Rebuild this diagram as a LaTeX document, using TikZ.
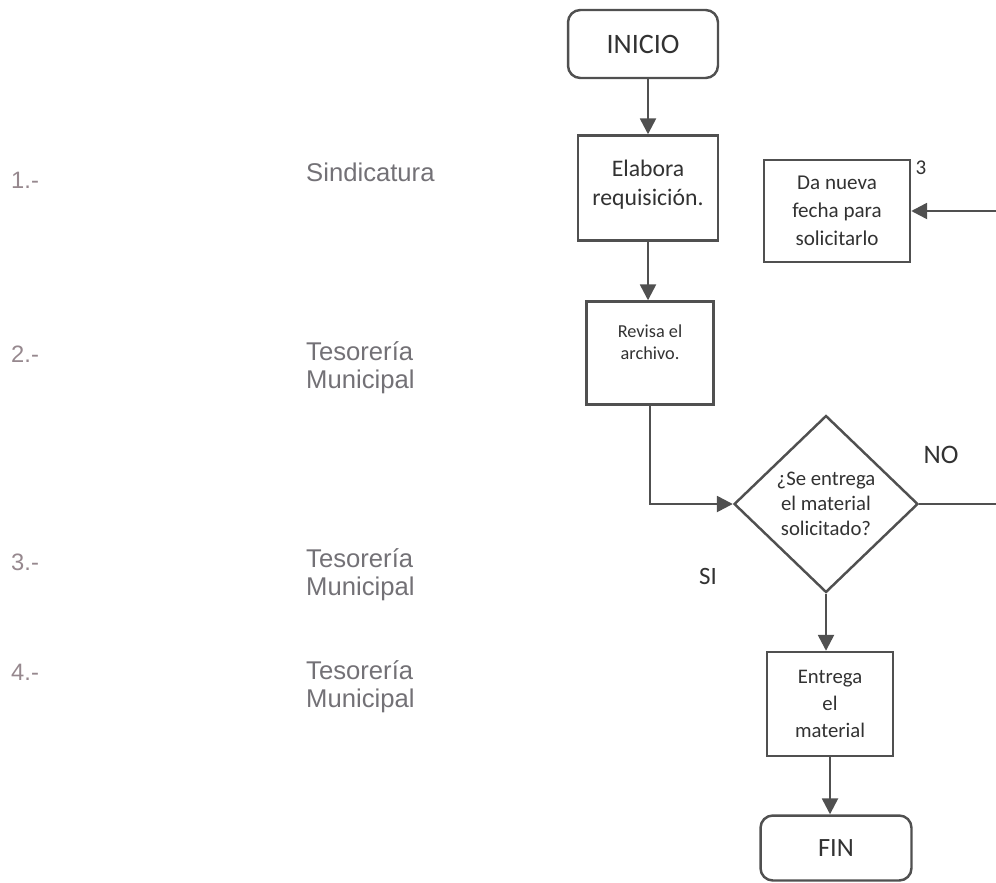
\documentclass[tikz,border=0pt]{standalone}
\usepackage{fontspec}
\setmainfont{Carlito}
\newfontfamily\arial{Liberation Sans}
\usetikzlibrary{shapes.geometric,arrows.meta,positioning}
\definecolor{linegray}{RGB}{80,80,80}
\definecolor{txtgray}{RGB}{50,50,50}
\definecolor{lblgray}{RGB}{115,113,118}
\definecolor{numgray}{RGB}{150,136,142}

\begin{document}
\begin{tikzpicture}[x=0.02cm, y=-0.02cm, line width=1.4pt, draw=linegray, text=txtgray,
  term/.style = {draw, rounded corners=7pt, minimum width=3cm, minimum height=1.36cm, font=\fontsize{16}{19}\selectfont},
  box/.style = {draw, minimum width=2.8cm, minimum height=2.1cm},
  txt/.style = {align=center, inner sep=0pt},
  decide/.style = {draw, diamond, aspect=1, inner sep=0pt, minimum width=3.68cm, minimum height=3.54cm, align=center, font=\fontsize{11.8}{14.2}\selectfont},
  area/.style = {anchor=north west, align=left, inner sep=0pt, text=lblgray, font=\arial\fontsize{14.6}{15.9}\selectfont},
  num/.style = {anchor=north west, inner sep=0pt, text=numgray, font=\arial\fontsize{13.5}{15}\selectfont},
  arr/.style = {-{Triangle[length=9pt,width=9pt]}, draw=linegray}]
  \useasboundingbox (0,0) rectangle (996,882);

  % left column
  \node[num] (n1) at (10,171) {1.-};
  \node[num] (n2) at (10,345) {2.-};
  \node[num] (n3) at (10,553) {3.-};
  \node[num] (n4) at (10,663) {4.-};
  \node[area] (a1) at (305,162) {Sindicatura};
  \node[area] (a2) at (305,340) {Tesorería\\Municipal};
  \node[area] (a3) at (305,547) {Tesorería\\Municipal};
  \node[area] (a4) at (305,659) {Tesorería\\Municipal};

  % flow
  \node[term] (inicio) at (643,44) {INICIO};
  \node[box] (elabora) at (648,188) {};
  \node[txt, below=14pt of elabora.north, font=\fontsize{13.5}{16.5}\selectfont] (elaboraT) {Elabora\\requisición.};
  \node[box, minimum width=2.54cm, minimum height=2.06cm] (revisa) at (650,353) {};
  \node[txt, below=13pt of revisa.north, font=\fontsize{10.4}{13}\selectfont] (revisaT) {Revisa el\\archivo.};
  \node[decide] (decide) at (826,504) {¿Se entrega\\el material\\solicitado?};
  \node[box, minimum width=2.92cm, minimum height=2.04cm, align=center, font=\fontsize{12}{16}\selectfont] (nueva) at (837,211) {Da nueva\\fecha para\\solicitarlo};
  \node[box, minimum width=2.52cm, minimum height=2.08cm, align=center, font=\fontsize{11.8}{15.4}\selectfont] (entrega) at (830,704) {Entrega\\el\\material};
  \node[term, minimum width=3.02cm, minimum height=1.3cm, font=\fontsize{15}{18}\selectfont] (fin) at (836,848) {FIN};

  \node[font=\fontsize{12}{14}\selectfont] (tres) at (921,168) {3};
  \node[font=\fontsize{15.2}{18}\selectfont] (no) at (941,455) {NO};
  \node[font=\fontsize{14.2}{17}\selectfont] (si) at (708,576) {SI};

  \coordinate (noend) at (996,504);
  \coordinate (backin) at (996,211);

  \draw[arr] (elabora.north |- inicio.south) -- (elabora.north);
  \draw[arr] (elabora.south) -- (elabora.south |- revisa.north);
  \draw[arr] (revisa.south) |- (decide.west);
  \draw[arr] (decide.south) -- (decide.south |- entrega.north);
  \draw[arr] (entrega.south) -- (entrega.south |- fin.north);
  \draw (decide.east) -- (noend);
  \draw[arr] (backin) -- (nueva.east);

\end{tikzpicture}
\end{document}
